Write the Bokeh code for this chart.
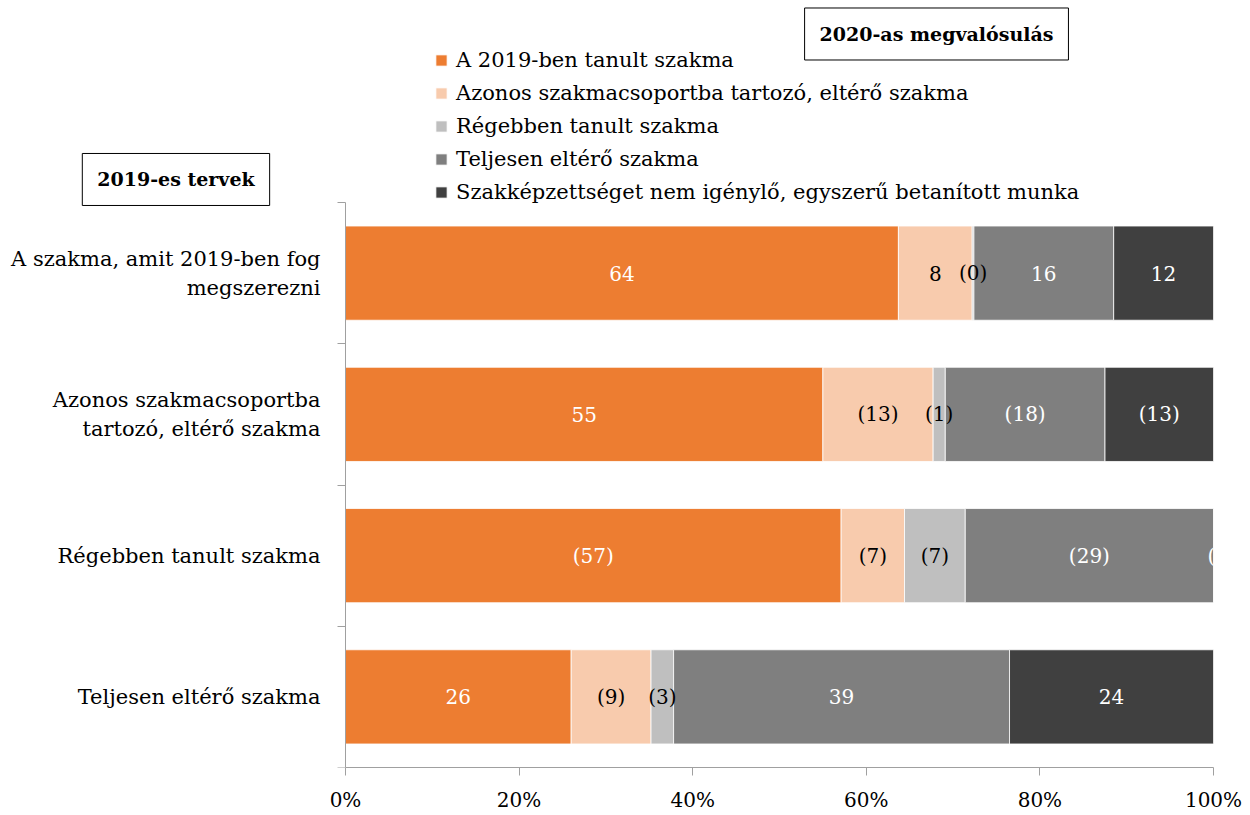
from bokeh.plotting import figure
from bokeh.models import (ColumnDataSource, Range1d, FixedTicker, PrintfTickFormatter,
                          Label, Legend, LinearAxis)
from bokeh.embed import file_html
from bokeh.resources import INLINE
from bokeh.core.properties import value

# ---- data ----
categories = [
    "A szakma, amit 2019-ben fog\nmegszerezni",
    "Azonos szakmacsoportba\ntartozó, eltérő szakma",
    "Régebben tanult szakma",
    "Teljesen eltérő szakma",
]
series_names = [
    "A 2019-ben tanult szakma",
    "Azonos szakmacsoportba tartozó, eltérő szakma",
    "Régebben tanult szakma",
    "Teljesen eltérő szakma",
    "Szakképzettséget nem igénylő, egyszerű betanított munka",
]
tanult_2019 = [63.7, 55.0, 57.1, 26.0]
azonos_csoport = [8.5, 12.7, 7.3, 9.2]
regebben = [0.2, 1.4, 7.0, 2.6]
teljesen_elter = [16.1, 18.4, 28.6, 38.7]
betanitott = [11.5, 12.5, 0.0, 23.5]

labels_tanult_2019 = ["64", "55", "(57)", "26"]
labels_azonos_csoport = ["8", "(13)", "(7)", "(9)"]
labels_regebben = ["(0)", "(1)", "(7)", "(3)"]
labels_teljesen_elter = ["16", "(18)", "(29)", "39"]
labels_betanitott = ["12", "(13)", "(0)", "24"]

x_ticks = [0, 20, 40, 60, 80, 100]
title_left = "2019-es tervek"
title_right = "2020-as megvalósulás"

# ---- styles / layout ----
FONT = "DejaVu Serif"
colors = ["#ED7D31", "#F8CBAD", "#BFBFBF", "#7F7F7F", "#404040"]
text_colors = ["white", "black", "black", "white", "white"]
axis_grey = "#A0A0A0"

series_values = [tanult_2019, azonos_csoport, regebben, teljesen_elter, betanitott]
series_labels = [labels_tanult_2019, labels_azonos_csoport, labels_regebben,
                 labels_teljesen_elter, labels_betanitott]
keys = ["s1", "s2", "s3", "s4", "s5"]

n = len(categories)
ypos = [n - 0.5 - i for i in range(n)]

# the frame spans the whole page above the x axis; the bar area occupies
# x in [0, 100] and y in [0, n]; the area left of / above it holds labels
AXIS_LEFT_PX, BAR_W_PX = 345, 868
FRAME_H_PX, BAR_H_PX = 767, 565
BOTTOM_PX = 47
x_start = -100.0 * AXIS_LEFT_PX / BAR_W_PX
y_end = n * FRAME_H_PX / BAR_H_PX

data = {"y": ypos}
for k, v in zip(keys, series_values):
    data[k] = v
source = ColumnDataSource(data)

p = figure(width=AXIS_LEFT_PX + BAR_W_PX + 29, height=FRAME_H_PX + BOTTOM_PX,
           output_backend="svg", toolbar_location=None,
           x_range=Range1d(x_start, 100), y_range=Range1d(0, y_end),
           y_axis_location=None,
           min_border_left=0, min_border_right=29, min_border_top=0,
           min_border_bottom=BOTTOM_PX)
p.outline_line_color = None
p.xgrid.grid_line_color = None
p.ygrid.grid_line_color = None

renderers = p.hbar_stack(keys, y="y", height=0.667, color=colors, source=source,
                         line_color="white", line_width=0.8)

# value labels
for si, (vals, labs) in enumerate(zip(series_values, series_labels)):
    xs, ys, ts, aligns, offs = [], [], [], [], []
    for ci in range(n):
        left = sum(series_values[j][ci] for j in range(si))
        w = vals[ci]
        xs.append(left + w / 2)
        ys.append(ypos[ci])
        ts.append(labs[ci])
        if w == 0:
            aligns.append("left")
            offs.append(-6)
        else:
            aligns.append("center")
            offs.append(0)
    src = ColumnDataSource(dict(x=xs, y=ys, t=ts, a=aligns, o=offs))
    p.text(x="x", y="y", text="t", source=src, text_align="a", x_offset="o",
           text_baseline="middle", text_font=value(FONT), text_font_size="20px",
           text_color=text_colors[si])

# x axis
xa = p.xaxis[0]
xa.bounds = (0, 100)
xa.ticker = FixedTicker(ticks=x_ticks)
xa.formatter = PrintfTickFormatter(format="%d%%")
xa.axis_line_color = axis_grey
xa.major_tick_line_color = axis_grey
xa.major_tick_in = 0
xa.major_tick_out = 8
xa.minor_tick_line_color = None
xa.major_label_text_font = FONT
xa.major_label_text_font_size = "20px"
xa.major_label_text_color = "black"
xa.major_label_standoff = 12

# y axis, fixed at x = 0
ya = LinearAxis(fixed_location=0, bounds=(0, n),
                ticker=FixedTicker(ticks=ypos, minor_ticks=list(range(n + 1))))
ya.major_label_overrides = {y: c for y, c in zip(ypos, categories)}
ya.axis_line_color = axis_grey
ya.major_tick_line_color = None
ya.minor_tick_line_color = axis_grey
ya.minor_tick_in = 0
ya.minor_tick_out = 8
ya.major_label_text_font = FONT
ya.major_label_text_font_size = "21px"
ya.major_label_text_color = "black"
ya.major_label_standoff = 17
p.add_layout(ya, "left")

# legend
lg = Legend(items=[(nm, [r]) for nm, r in zip(series_names, renderers)],
            location=(434, 562), orientation="vertical")
lg.label_text_font = FONT
lg.label_text_font_size = "21px"
lg.label_text_color = "black"
lg.glyph_width = 14
lg.glyph_height = 14
lg.label_height = 27
lg.spacing = 6
lg.padding = 0
lg.margin = 0
lg.border_line_color = None
lg.background_fill_alpha = 0
lg.label_standoff = 8
p.add_layout(lg)

# title boxes
for txt, x, y in [(title_right, 68.09, 5.193), (title_left, -19.53, 4.163)]:
    p.add_layout(Label(x=x, y=y, text=txt, text_align="center", text_baseline="middle",
                       text_font=FONT, text_font_size="19px", text_font_style="bold",
                       text_color="black", border_line_color="black", border_line_width=1,
                       background_fill_color="white", padding=15))

open("out.html", "w").write(file_html(p, INLINE))
